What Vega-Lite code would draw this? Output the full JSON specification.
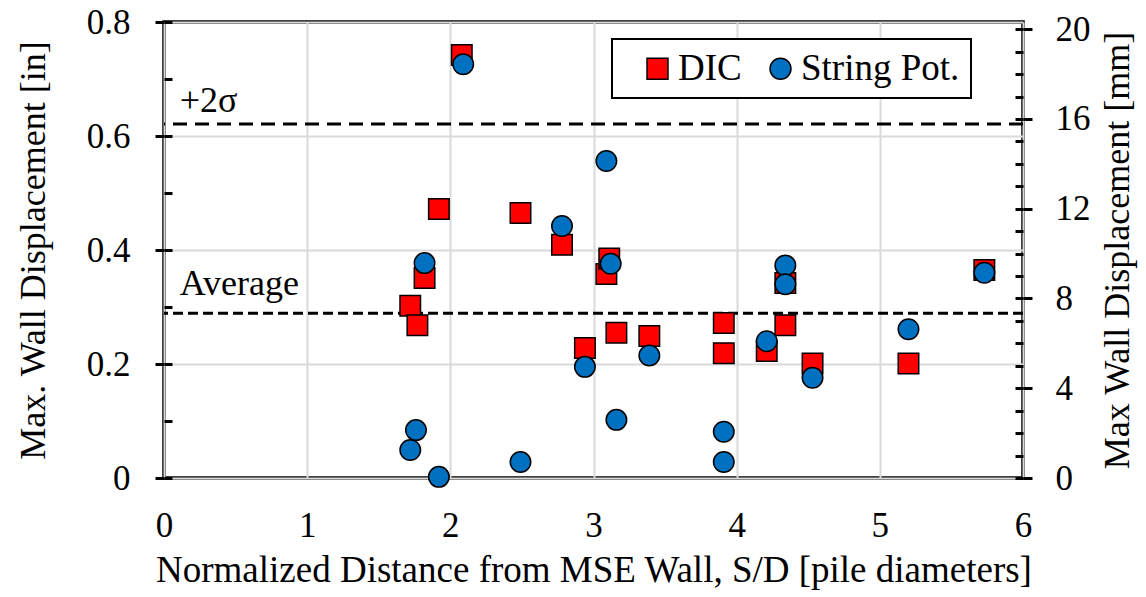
{
  "$schema": "https://vega.github.io/schema/vega-lite/v6.json",
  "width": 859,
  "height": 456,
  "autosize": {"type": "none"},
  "padding": {"left": 164, "top": 22, "right": 123, "bottom": 119},
  "background": "white",
  "config": {
    "view": {"stroke": "black", "strokeWidth": 3.5},
    "font": "Liberation Serif",
    "axis": {"labelFont": "Liberation Serif", "titleFont": "Liberation Serif", "labelColor": "black", "titleColor": "black", "titleFontWeight": "normal", "domain": false, "tickColor": "black", "tickWidth": 3, "gridColor": "#d9d9d9", "gridWidth": 2},
    "legend": {"labelFont": "Liberation Serif", "strokeWidth": 2}
  },
  "datasets": {
    "pts": [
      {"s": 1.72, "d": 0.302, "series": "DIC"},
      {"s": 1.77, "d": 0.268, "series": "DIC"},
      {"s": 1.82, "d": 0.351, "series": "DIC"},
      {"s": 1.92, "d": 0.472, "series": "DIC"},
      {"s": 2.08, "d": 0.742, "series": "DIC"},
      {"s": 2.49, "d": 0.465, "series": "DIC"},
      {"s": 2.78, "d": 0.409, "series": "DIC"},
      {"s": 2.94, "d": 0.228, "series": "DIC"},
      {"s": 3.09, "d": 0.358, "series": "DIC"},
      {"s": 3.11, "d": 0.385, "series": "DIC"},
      {"s": 3.16, "d": 0.255, "series": "DIC"},
      {"s": 3.39, "d": 0.249, "series": "DIC"},
      {"s": 3.91, "d": 0.272, "series": "DIC"},
      {"s": 3.91, "d": 0.219, "series": "DIC"},
      {"s": 4.21, "d": 0.223, "series": "DIC"},
      {"s": 4.34, "d": 0.342, "series": "DIC"},
      {"s": 4.34, "d": 0.268, "series": "DIC"},
      {"s": 4.53, "d": 0.201, "series": "DIC"},
      {"s": 5.20, "d": 0.201, "series": "DIC"},
      {"s": 5.73, "d": 0.365, "series": "DIC"},
      {"s": 1.72, "d": 0.049, "series": "String Pot"},
      {"s": 1.76, "d": 0.084, "series": "String Pot"},
      {"s": 1.82, "d": 0.377, "series": "String Pot"},
      {"s": 1.92, "d": 0.002, "series": "String Pot"},
      {"s": 2.09, "d": 0.726, "series": "String Pot"},
      {"s": 2.49, "d": 0.028, "series": "String Pot"},
      {"s": 2.78, "d": 0.442, "series": "String Pot"},
      {"s": 2.94, "d": 0.195, "series": "String Pot"},
      {"s": 3.09, "d": 0.556, "series": "String Pot"},
      {"s": 3.12, "d": 0.376, "series": "String Pot"},
      {"s": 3.16, "d": 0.102, "series": "String Pot"},
      {"s": 3.39, "d": 0.215, "series": "String Pot"},
      {"s": 3.91, "d": 0.081, "series": "String Pot"},
      {"s": 3.91, "d": 0.028, "series": "String Pot"},
      {"s": 4.21, "d": 0.240, "series": "String Pot"},
      {"s": 4.34, "d": 0.373, "series": "String Pot"},
      {"s": 4.34, "d": 0.340, "series": "String Pot"},
      {"s": 4.53, "d": 0.176, "series": "String Pot"},
      {"s": 5.20, "d": 0.261, "series": "String Pot"},
      {"s": 5.73, "d": 0.360, "series": "String Pot"}
    ],
    "sigma": [{"name": "+2σ", "d": 0.621, "lx": 0.11, "ly": 0.642}],
    "avg": [{"name": "Average", "d": 0.289, "lx": 0.11, "ly": 0.321}],
    "dummy": [{"v": 0}]
  },
  "layer": [
    {
      "data": {"name": "sigma"},
      "mark": {"type": "rule", "color": "black", "strokeWidth": 3, "strokeDash": [14, 8]},
      "encoding": {
        "y": {"field": "d", "type": "quantitative", "scale": {"domain": [0, 0.8], "nice": false}, "axis": null}
      }
    },
    {
      "data": {"name": "avg"},
      "mark": {"type": "rule", "color": "black", "strokeWidth": 3, "strokeDash": [10, 5]},
      "encoding": {
        "y": {"field": "d", "type": "quantitative", "scale": {"domain": [0, 0.8], "nice": false}, "axis": null}
      }
    },
    {
      "data": {"name": "sigma"},
      "mark": {"type": "text", "align": "left", "baseline": "alphabetic", "fontSize": 36, "font": "Liberation Serif", "color": "black"},
      "encoding": {
        "x": {"field": "lx", "type": "quantitative", "scale": {"domain": [0, 6], "nice": false}},
        "y": {"field": "ly", "type": "quantitative", "scale": {"domain": [0, 0.8], "nice": false}, "axis": null},
        "text": {"field": "name", "type": "nominal"}
      }
    },
    {
      "data": {"name": "avg"},
      "mark": {"type": "text", "align": "left", "baseline": "alphabetic", "fontSize": 36, "font": "Liberation Serif", "color": "black"},
      "encoding": {
        "x": {"field": "lx", "type": "quantitative", "scale": {"domain": [0, 6], "nice": false}},
        "y": {"field": "ly", "type": "quantitative", "scale": {"domain": [0, 0.8], "nice": false}, "axis": null},
        "text": {"field": "name", "type": "nominal"}
      }
    },
    {
      "data": {"name": "pts"},
      "mark": {"type": "point", "filled": true, "opacity": 1, "size": 420, "stroke": "black", "strokeWidth": 1.5},
      "encoding": {
        "x": {"field": "s", "type": "quantitative", "scale": {"domain": [0, 6], "nice": false},
          "axis": {"values": [0, 1, 2, 3, 4, 5, 6], "format": "d", "ticks": false, "grid": true, "labelFontSize": 35, "labelPadding": 30, "labelFlush": false, "title": "Normalized Distance from MSE Wall, S/D [pile diameters]", "titleFontSize": 37, "titlePadding": 9}},
        "y": {"field": "d", "type": "quantitative", "scale": {"domain": [0, 0.8], "nice": false},
          "axis": {"orient": "left", "values": [0, 0.2, 0.4, 0.6, 0.8], "tickSize": 9, "grid": true, "labelFontSize": 35, "labelPadding": 25, "labelFlush": false, "labelExpr": "datum.value == 0 ? '0' : format(datum.value, '.1f')", "title": "Max. Wall Displacement [in]", "titleFontSize": 36, "titlePadding": 34}},
        "color": {"field": "series", "type": "nominal", "scale": {"domain": ["DIC", "String Pot"], "range": ["#FF0000", "#0070C0"]},
          "legend": {"title": null, "orient": "none", "legendX": 448, "legendY": 17, "direction": "horizontal", "strokeColor": "black", "fillColor": "white", "padding": 11, "labelFontSize": 37, "labelOffset": 2, "symbolSize": 440, "symbolStrokeColor": "black", "symbolStrokeWidth": 1.5, "columnPadding": 4, "symbolOffset": 16, "labelColor": "black", "labelExpr": "datum.label == 'DIC' ? 'DIC' : 'String Pot.'"}},
        "shape": {"field": "series", "type": "nominal", "scale": {"domain": ["DIC", "String Pot"], "range": ["square", "circle"]}}
      }
    },
    {
      "data": {"name": "dummy"},
      "mark": {"type": "rule", "opacity": 0},
      "encoding": {
        "y": {"field": "v", "type": "quantitative", "scale": {"domain": [0, 0.8], "nice": false},
          "axis": {"orient": "left", "values": [0, 0.1, 0.2, 0.3, 0.4, 0.5, 0.6, 0.7, 0.8], "tickSize": -8, "labels": false, "grid": false, "title": null}}
      }
    },
    {
      "data": {"name": "dummy"},
      "mark": {"type": "rule", "opacity": 0},
      "encoding": {
        "y": {"field": "v", "type": "quantitative", "scale": {"domain": [0, 20.32], "nice": false},
          "axis": {"orient": "right", "values": [0, 4, 8, 12, 16, 20], "tickSize": 9, "grid": false, "labelFontSize": 35, "labelPadding": 23, "labelFlush": false, "title": "Max Wall Displacement [mm]", "titleFontSize": 36, "titleAngle": 270, "titleBaseline": "top", "titlePadding": 10}}
      }
    },
    {
      "data": {"name": "dummy"},
      "mark": {"type": "rule", "opacity": 0},
      "encoding": {
        "y": {"field": "v", "type": "quantitative", "scale": {"domain": [0, 20.32], "nice": false},
          "axis": {"orient": "right", "values": [0, 1, 2, 3, 4, 5, 6, 7, 8, 9, 10, 11, 12, 13, 14, 15, 16, 17, 18, 19, 20], "tickSize": -8, "labels": false, "grid": false, "title": null}}
      }
    }
  ],
  "resolve": {"scale": {"y": "independent"}, "axis": {"y": "independent"}}
}
